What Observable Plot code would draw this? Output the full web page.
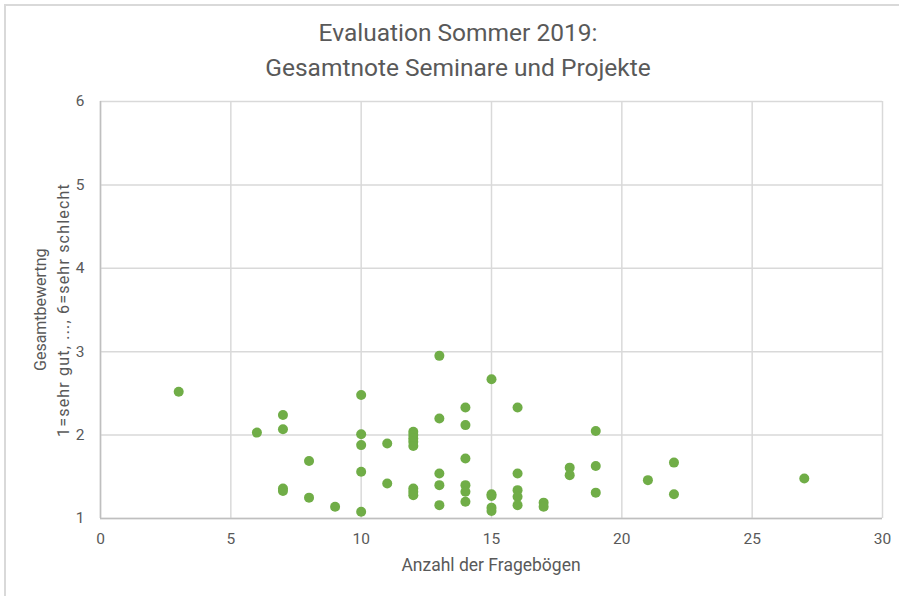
<!DOCTYPE html>
<html>
<head>
<meta charset="utf-8">
<script src="https://cdn.jsdelivr.net/npm/d3@7"></script>
<script src="https://cdn.jsdelivr.net/npm/@observablehq/plot@0.6"></script>
<style>
  html, body { margin: 0; padding: 0; background: #fff; }
  body { width: 899px; height: 596px; position: relative; overflow: hidden; font-family: Roboto, "Noto Sans", sans-serif; }
  #frame { position: absolute; left: 4px; top: 4px; width: 910px; height: 610px; border-left: 2px solid #d9d9d9; border-top: 2px solid #d9d9d9; }
  #title { position: absolute; left: 0; width: 916px; top: 15px; text-align: center; font-size: 24.5px; line-height: 35px; color: #595959; }
  #chart { position: absolute; left: 0; top: 0; }
  #chart svg text { font-size: 15.5px; }
  #xlab { position: absolute; left: 100px; width: 782px; top: 555px; text-align: center; font-size: 17.5px; color: #595959; }
  .ylab { position: absolute; left: 0; top: 0; font-size: 16px; color: #595959; white-space: nowrap; transform-origin: 0 0; }
  .ylab.wide { letter-spacing: 1.2px; }
</style>
</head>
<body>
<div id="frame"></div>
<div id="title"></div>
<div id="chart"></div>
<div id="xlab"></div>
<script>
const titleLines = ["Evaluation Sommer 2019:", "Gesamtnote Seminare und Projekte"];
const xLabel = "Anzahl der Fragebögen";
const yLabelLines = ["Gesamtbewertng", "1=sehr gut, ..., 6=sehr schlecht"];
const xTicks = [0, 5, 10, 15, 20, 25, 30];
const yTicks = [1, 2, 3, 4, 5, 6];

// Anzahl der Fragebögen
const fragebogen = [
  3,
  6,
  7, 7, 7, 7,
  8, 8,
  9,
  10, 10, 10, 10, 10,
  11, 11,
  12, 12, 12, 12, 12, 12, 12, 12,
  13, 13, 13, 13, 13,
  14, 14, 14, 14, 14, 14,
  15, 15, 15, 15, 15,
  16, 16, 16, 16, 16,
  17, 17,
  18, 18,
  19, 19, 19,
  21,
  22, 22,
  27
];
// Gesamtbewertung
const bewertung = [
  2.52,
  2.03,
  2.24, 2.07, 1.36, 1.33,
  1.69, 1.25,
  1.14,
  2.48, 2.01, 1.88, 1.56, 1.08,
  1.90, 1.42,
  2.04, 2.00, 1.96, 1.92, 1.87, 1.36, 1.32, 1.28,
  2.95, 2.20, 1.54, 1.40, 1.16,
  2.33, 2.12, 1.72, 1.40, 1.32, 1.20,
  2.67, 1.29, 1.27, 1.13, 1.09,
  2.33, 1.54, 1.34, 1.26, 1.16,
  1.19, 1.14,
  1.61, 1.52,
  2.05, 1.63, 1.31,
  1.46,
  1.67, 1.29,
  1.48
];

const data = fragebogen.map((x, i) => ({x, y: bewertung[i]}));

document.getElementById("title").innerHTML = titleLines.join("<br>");
document.getElementById("xlab").textContent = xLabel;

const plot = Plot.plot({
  width: 899,
  height: 596,
  marginLeft: 100,
  marginRight: 17,
  marginTop: 101,
  marginBottom: 78,
  style: { fontFamily: "Roboto, 'Noto Sans', sans-serif", fontSize: "15px", color: "#595959", background: "transparent" },
  x: { domain: [0, 30] },
  y: { domain: [1, 6] },
  marks: [
    Plot.gridX(xTicks, { stroke: "#d9d9d9", strokeOpacity: 1, strokeWidth: 1.5 }),
    Plot.gridY(yTicks, { stroke: "#d9d9d9", strokeOpacity: 1, strokeWidth: 1.5 }),
    Plot.ruleY([1], { stroke: "#bfbfbf", strokeWidth: 1.5 }),
    Plot.ruleX([0], { stroke: "#bfbfbf", strokeWidth: 1.5 }),
    Plot.axisX(xTicks, { tickSize: 0, tickPadding: 14, tickFormat: "d", fill: "#595959", label: null }),
    Plot.axisY(yTicks, { tickSize: 0, tickPadding: 16, tickFormat: "d", fill: "#595959", label: null }),
    Plot.dot(data, { x: "x", y: "y", r: 5, fill: "#70ad47", stroke: "none" })
  ]
});
document.getElementById("chart").appendChild(plot);

// two-line rotated y label
const cy = 310;
[[40, yLabelLines[0], ""], [63, yLabelLines[1], "wide"]].forEach(([cx, t, cls]) => {
  const d = document.createElement("div");
  d.className = "ylab " + cls;
  d.textContent = t;
  document.body.appendChild(d);
  const w = d.offsetWidth, h = d.offsetHeight;
  d.style.left = (cx - h / 2) + "px";
  d.style.top = (cy + w / 2) + "px";
  d.style.transform = "rotate(-90deg)";
});
</script>
</body>
</html>
